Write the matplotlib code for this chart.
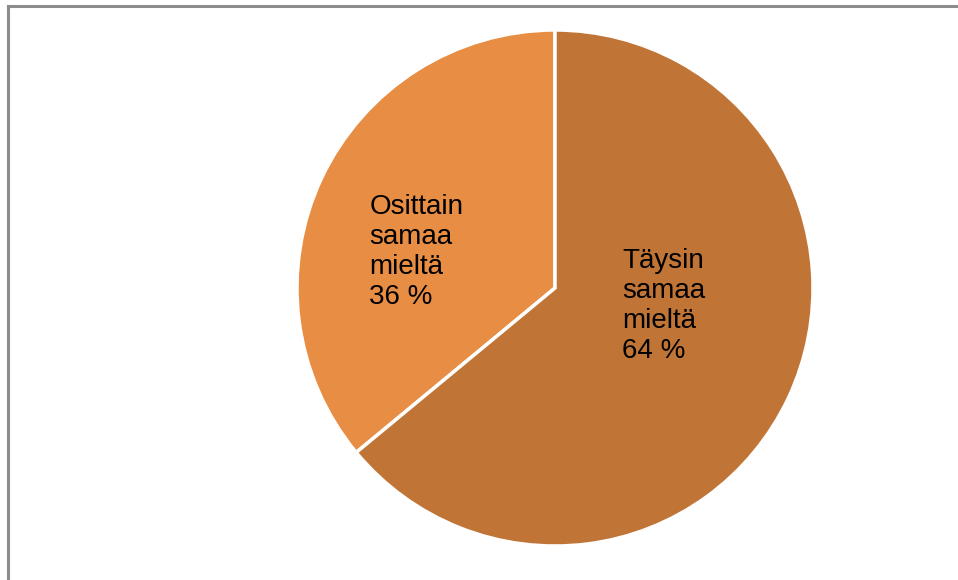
import matplotlib.pyplot as plt
from matplotlib.lines import Line2D

# vastausjakauma
categories = ["Osittain\nsamaa\nmieltä", "Täysin\nsamaa\nmieltä"]
shares = [36, 64]
colors = ["#E88D44", "#C07537"]

plt.rcParams['font.family'] = ['Liberation Sans', 'DejaVu Sans']

fig = plt.figure(figsize=(9.58, 5.8), dpi=100)
ax = fig.add_axes([297 / 958, 34 / 580, 516 / 958, 516 / 580])

ax.pie(shares, colors=colors, startangle=90, counterclock=True,
       wedgeprops=dict(edgecolor="white", linewidth=2.5), radius=1.0)
ax.set_xlim(-1.0, 1.0)
ax.set_ylim(-1.0, 1.0)
ax.set_aspect("equal")
ax.axis("off")

# tekstit lohkojen sisään
label_pos = [(-0.72, 0.365), (0.26, 0.155)]
for name, v, (x, y) in zip(categories, shares, label_pos):
    ax.text(x, y, f"{name}\n{v} %", ha="left", va="top",
            fontsize=20, linespacing=1.2, color="black")

# kehys vasemmalla ja ylhäällä
fig.add_artist(Line2D([8 / 958, 1], [1 - 6 / 580, 1 - 6 / 580],
                      transform=fig.transFigure, color="#8c8c8c", linewidth=2.2))
fig.add_artist(Line2D([8 / 958, 8 / 958], [0, 1 - 6 / 580],
                      transform=fig.transFigure, color="#8c8c8c", linewidth=2.2))

fig.savefig("out.png", dpi=100)
